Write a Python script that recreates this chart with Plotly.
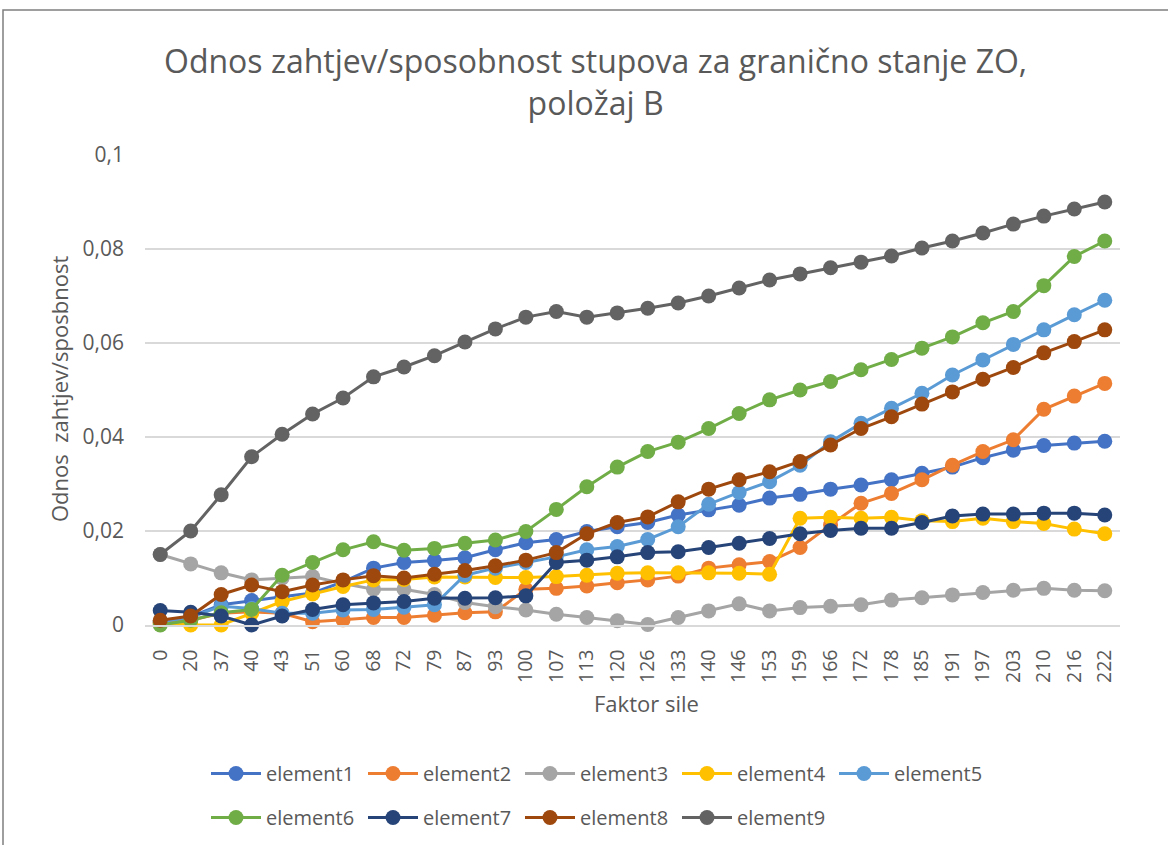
import plotly.graph_objects as go

# Force factor categories (x axis)
faktor = ["0", "20", "37", "40", "43", "51", "60", "68", "72", "79", "87", "93",
          "100", "107", "113", "120", "126", "133", "140", "146", "153", "159",
          "166", "172", "178", "185", "191", "197", "203", "210", "216", "222"]

element1 = [0.0007, 0.0018, 0.0043, 0.0052, 0.0060, 0.0068, 0.0092, 0.0121, 0.0133, 0.0137,
            0.0143, 0.0160, 0.0175, 0.0182, 0.0199, 0.0209, 0.0218, 0.0234, 0.0245, 0.0255,
            0.0270, 0.0278, 0.0289, 0.0298, 0.0309, 0.0323, 0.0336, 0.0356, 0.0372, 0.0382,
            0.0387, 0.0391]
element2 = [0.0003, 0.0010, 0.0025, 0.0028, 0.0025, 0.0007, 0.0011, 0.0016, 0.0016, 0.0021,
            0.0026, 0.0028, 0.0076, 0.0078, 0.0083, 0.0090, 0.0096, 0.0104, 0.0121, 0.0128,
            0.0135, 0.0165, 0.0213, 0.0259, 0.0280, 0.0309, 0.0340, 0.0369, 0.0394, 0.0459,
            0.0487, 0.0514]
element3 = [0.0150, 0.0130, 0.0111, 0.0096, 0.0100, 0.0103, 0.0088, 0.0076, 0.0076, 0.0065,
            0.0048, 0.0039, 0.0032, 0.0023, 0.0016, 0.0009, 0.0001, 0.0016, 0.0030, 0.0045,
            0.0030, 0.0037, 0.0040, 0.0043, 0.0053, 0.0058, 0.0064, 0.0069, 0.0074, 0.0078,
            0.0074, 0.0073]
element4 = [0.0005, 0.0000, 0.0000, 0.0025, 0.0050, 0.0066, 0.0082, 0.0096, 0.0097, 0.0102,
            0.0102, 0.0101, 0.0101, 0.0103, 0.0106, 0.0110, 0.0111, 0.0111, 0.0111, 0.0110,
            0.0108, 0.0227, 0.0229, 0.0227, 0.0229, 0.0222, 0.0220, 0.0227, 0.0220, 0.0216,
            0.0204, 0.0194]
element5 = [0.0007, 0.0016, 0.0040, 0.0035, 0.0025, 0.0025, 0.0032, 0.0033, 0.0038, 0.0043,
            0.0106, 0.0121, 0.0133, 0.0145, 0.0160, 0.0167, 0.0182, 0.0209, 0.0257, 0.0282,
            0.0305, 0.0340, 0.0390, 0.0429, 0.0461, 0.0493, 0.0532, 0.0564, 0.0597, 0.0628,
            0.0660, 0.0691]
element6 = [0.0000, 0.0010, 0.0026, 0.0033, 0.0106, 0.0133, 0.0160, 0.0177, 0.0159, 0.0163,
            0.0174, 0.0181, 0.0199, 0.0246, 0.0294, 0.0336, 0.0369, 0.0389, 0.0418, 0.0450,
            0.0479, 0.0500, 0.0518, 0.0543, 0.0565, 0.0589, 0.0613, 0.0643, 0.0667, 0.0722,
            0.0784, 0.0817]
element7 = [0.0031, 0.0027, 0.0019, 0.0000, 0.0019, 0.0033, 0.0043, 0.0047, 0.0050, 0.0057,
            0.0057, 0.0058, 0.0062, 0.0133, 0.0138, 0.0145, 0.0154, 0.0156, 0.0165, 0.0174,
            0.0184, 0.0194, 0.0201, 0.0206, 0.0206, 0.0218, 0.0232, 0.0236, 0.0236, 0.0238,
            0.0238, 0.0234]
element8 = [0.0010, 0.0019, 0.0065, 0.0085, 0.0071, 0.0085, 0.0096, 0.0105, 0.0100, 0.0108,
            0.0116, 0.0126, 0.0138, 0.0154, 0.0194, 0.0218, 0.0230, 0.0262, 0.0289, 0.0309,
            0.0326, 0.0348, 0.0383, 0.0418, 0.0443, 0.0470, 0.0496, 0.0523, 0.0548, 0.0579,
            0.0603, 0.0628]
element9 = [0.0150, 0.0200, 0.0277, 0.0358, 0.0406, 0.0449, 0.0483, 0.0528, 0.0549, 0.0573,
            0.0602, 0.0630, 0.0655, 0.0667, 0.0655, 0.0664, 0.0674, 0.0685, 0.0700, 0.0717,
            0.0734, 0.0747, 0.0760, 0.0772, 0.0785, 0.0802, 0.0817, 0.0834, 0.0853, 0.0870,
            0.0885, 0.0900]

series_names = ["element1", "element2", "element3", "element4", "element5",
                "element6", "element7", "element8", "element9"]
series_values = [element1, element2, element3, element4, element5,
                 element6, element7, element8, element9]
series_colors = ["#4472C4", "#ED7D31", "#A5A5A5", "#FFC000", "#5B9BD5",
                 "#70AD47", "#264478", "#9E480E", "#636363"]

y_tickvals = [0, 0.02, 0.04, 0.06, 0.08, 0.1]
y_ticktext = ["0", "0,02", "0,04", "0,06", "0,08", "0,1"]

W, H = 1168, 845
L, R, T, B = 145, 1120, 155, 625
FONT = "Open Sans"
TEXT_GREY = "#595959"


def px_x(px):
    return (px - L) / (R - L)


def px_y(py):
    return (B - py) / (B - T)


fig = go.Figure()
for i, (name, vals, col) in enumerate(zip(series_names, series_values, series_colors)):
    fig.add_trace(go.Scatter(
        x=faktor, y=vals, name=name, mode="lines+markers",
        line=dict(color=col, width=3),
        marker=dict(color=col, size=15),
        cliponaxis=False,
        legend="legend" if i < 5 else "legend2",
    ))

legend_common = dict(
    orientation="h", xanchor="left", yanchor="top",
    font=dict(family=FONT, size=20, color=TEXT_GREY),
    itemwidth=50,
    entrywidth=92, entrywidthmode="pixels",
    bgcolor="rgba(0,0,0,0)", itemclick=False, itemdoubleclick=False,
)

fig.update_layout(
    width=W, height=H, autosize=False,
    margin=dict(l=L, r=W - R, t=T, b=H - B, autoexpand=False),
    paper_bgcolor="white", plot_bgcolor="white",
    font=dict(family=FONT, color=TEXT_GREY),
    showlegend=True,
    legend=dict(x=px_x(206), y=px_y(754), **legend_common),
    legend2=dict(x=px_x(206), y=px_y(798), **legend_common),
    xaxis=dict(
        type="category", range=[-0.5, len(faktor) - 0.5],
        showgrid=False, showline=True, linecolor="#D9D9D9", linewidth=1.5,
        ticks="", tickangle=-90, ticklabelstandoff=15,
        tickfont=dict(family=FONT, size=19.5, color=TEXT_GREY),
    ),
    yaxis=dict(
        range=[0, 0.1], tickvals=y_tickvals, ticktext=y_ticktext,
        showgrid=True, gridcolor="#D9D9D9", gridwidth=1.5,
        zeroline=False, showline=False, ticks="", ticklabelstandoff=20,
        tickfont=dict(family=FONT, size=21, color=TEXT_GREY),
    ),
    annotations=[
        dict(text="Odnos zahtjev/sposobnost stupova za granično stanje ZO,<br>položaj B",
             x=px_x(595), y=px_y(81), xref="paper", yref="paper",
             xanchor="center", yanchor="middle", showarrow=False,
             font=dict(family=FONT, size=32, color=TEXT_GREY)),
        dict(text="Odnos\u00a0 zahtjev/sposbnost",
             x=px_x(59), y=px_y(389), xref="paper", yref="paper",
             xanchor="center", yanchor="middle", textangle=-90, showarrow=False,
             font=dict(family=FONT, size=22, color=TEXT_GREY)),
        dict(text="Faktor sile",
             x=px_x(646), y=px_y(703), xref="paper", yref="paper",
             xanchor="center", yanchor="middle", showarrow=False,
             font=dict(family=FONT, size=22, color=TEXT_GREY)),
    ],
    shapes=[
        dict(type="path", xref="paper", yref="paper",
             path=f"M {px_x(3)} {px_y(860)} L {px_x(3)} {px_y(10)} L {px_x(1180)} {px_y(10)}",
             line=dict(color="#7F7F7F", width=1.5)),
    ],
)

fig.write_html("out.html")
